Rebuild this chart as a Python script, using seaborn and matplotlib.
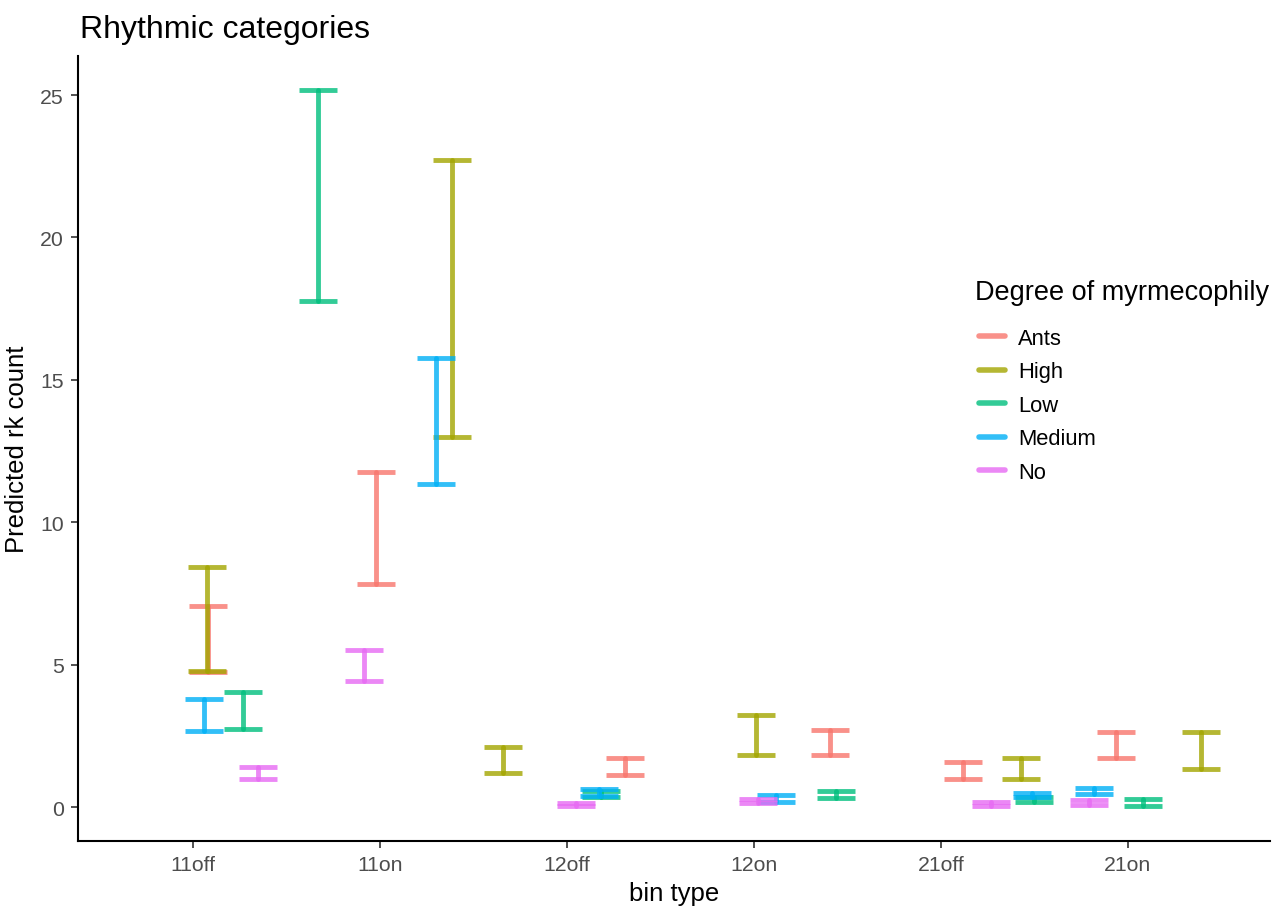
import numpy as np
import pandas as pd
import matplotlib
matplotlib.use("Agg")
import matplotlib.pyplot as plt
from matplotlib.lines import Line2D
import seaborn as sns

# Bin types on the x axis and myrmecophily groups
bins = ["11off", "11on", "12off", "12on", "21off", "21on"]
groups = ["Ants", "High", "Low", "Medium", "No"]

# Lower / upper bounds of the predicted rk count per group, one value per bin
ants_lower = [4.75, 7.82, 1.12, 1.84, 0.98, 1.74]
ants_upper = [7.07, 11.77, 1.74, 2.72, 1.57, 2.62]
high_lower = [4.79, 12.99, 1.18, 1.84, 0.98, 1.35]
high_upper = [8.42, 22.72, 2.12, 3.22, 1.73, 2.64]
low_lower = [2.74, 17.76, 0.37, 0.31, 0.17, 0.05]
low_upper = [4.03, 25.18, 0.58, 0.58, 0.35, 0.30]
medium_lower = [2.68, 11.33, 0.40, 0.17, 0.35, 0.45]
medium_upper = [3.79, 15.77, 0.62, 0.42, 0.50, 0.68]
no_lower = [0.98, 4.41, 0.03, 0.16, 0.05, 0.06]
no_upper = [1.39, 5.51, 0.16, 0.30, 0.19, 0.25]

# Horizontal jitter of each interval around its bin
ants_jitter = [0.08, -0.02, 0.31, 0.41, 0.12, -0.065]
high_jitter = [0.075, 0.385, -0.34, 0.01, 0.43, 0.39]
low_jitter = [0.27, -0.33, 0.18, 0.44, 0.50, 0.08]
medium_jitter = [0.06, 0.30, 0.17, 0.12, 0.49, -0.18]
no_jitter = [0.35, -0.085, 0.05, 0.02, 0.27, -0.21]

lowers = [ants_lower, high_lower, low_lower, medium_lower, no_lower]
uppers = [ants_upper, high_upper, low_upper, medium_upper, no_upper]
jitters = [ants_jitter, high_jitter, low_jitter, medium_jitter, no_jitter]

rows = []
for g, lo, hi, jt in zip(groups, lowers, uppers, jitters):
    for i, b in enumerate(bins):
        xpos = i + jt[i]
        rows.append({"group": g, "bin": b, "x": xpos, "count": lo[i]})
        rows.append({"group": g, "bin": b, "x": xpos, "count": hi[i]})
df = pd.DataFrame(rows)

palette = dict(zip(groups, ["#F8766D", "#A3A500", "#00BF7D", "#00B0F6", "#E76BF3"]))

sns.set_style("white")
plt.rcParams["font.family"] = ["Liberation Sans", "DejaVu Sans"]
plt.rcParams["text.color"] = "black"
plt.rcParams["axes.labelcolor"] = "black"

fig = plt.figure(figsize=(12.84, 9.12), dpi=100)
ax = fig.add_axes([0.0607, 0.0768, 0.9283, 0.8607])

lw = 3.5
sns.lineplot(
    data=df, x="x", y="count", hue="group", hue_order=groups, palette=palette,
    estimator="mean", errorbar=("pi", 100), err_style="bars",
    err_kws=dict(capsize=13.7, elinewidth=lw, capthick=lw),
    linestyle="", alpha=0.8, legend=False, sort=True, ax=ax,
)

ax.set_xlim(-0.615, 5.76)
ax.set_ylim(-1.19, 26.37)
ax.set_xticks(range(len(bins)))
ax.set_xticklabels(bins)
ax.set_yticks([0, 5, 10, 15, 20, 25])

for side in ["top", "right"]:
    ax.spines[side].set_visible(False)
for side in ["left", "bottom"]:
    ax.spines[side].set_color("black")
    ax.spines[side].set_linewidth(1.5)

ax.tick_params(axis="both", which="major", length=5, width=1.2, color="#333333",
               labelsize=15.3, labelcolor="#4D4D4D", pad=5, direction="out",
               bottom=True, left=True)

ax.set_xlabel("bin type", fontsize=18.5, labelpad=5)
ax.set_ylabel("Predicted rk count", fontsize=18.5, labelpad=8)
ax.set_title("Rhythmic categories", fontsize=23, loc="left", x=0.0015, pad=14,
             color="black")

# Legend: title as its own text line, entries below it
fig.text(975 / 1284, 1 - 293 / 912, "Degree of myrmecophily", fontsize=19.5,
         ha="left", va="center")
handles = [Line2D([0], [0], color=palette[g], lw=4, alpha=0.8) for g in groups]
fig.legend(handles, groups, loc="upper left", bbox_to_anchor=(0.747, 0.661),
           frameon=False, fontsize=15.8, handlelength=1.2, handletextpad=0.6,
           labelspacing=0.57)

fig.savefig("out.png", dpi=100)
